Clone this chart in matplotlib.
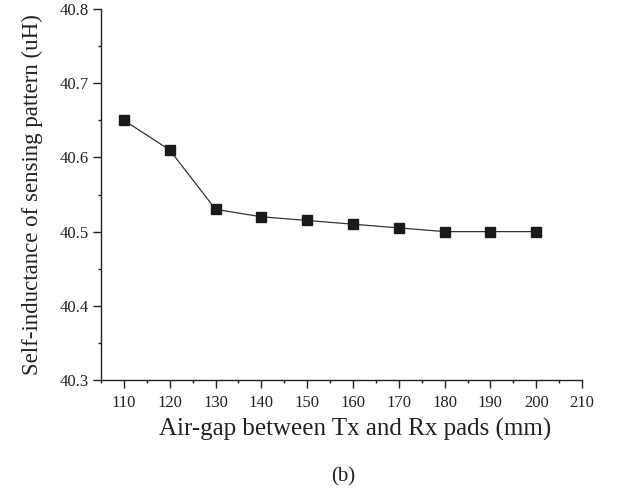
import matplotlib.pyplot as plt
from matplotlib.ticker import MultipleLocator

plt.rcParams['font.family'] = ['Liberation Serif', 'DejaVu Serif']

# data
air_gap = [110, 120, 130, 140, 150, 160, 170, 180, 190, 200]
inductance = [40.65, 40.61, 40.53, 40.52, 40.515, 40.51, 40.505, 40.50, 40.50, 40.50]

fig = plt.figure(figsize=(6.37, 4.95), dpi=100)
ax = fig.add_axes([0.1586, 0.2323, 0.7551, 0.7495])

ax.plot(air_gap, inductance, color='#333333', linewidth=0.9,
        marker='s', markersize=7, markerfacecolor='#1a1a1a', markeredgecolor='#1a1a1a')

ax.set_xlim(105, 210)
ax.set_ylim(40.3, 40.8)
ax.xaxis.set_major_locator(MultipleLocator(10))
ax.xaxis.set_minor_locator(MultipleLocator(5))
ax.yaxis.set_major_locator(MultipleLocator(0.1))
ax.yaxis.set_minor_locator(MultipleLocator(0.05))
ax.set_xticks(range(110, 211, 10))
ax.yaxis.set_major_formatter(plt.FormatStrFormatter('%.1f'))

ax.spines['top'].set_visible(False)
ax.spines['right'].set_visible(False)
for s in ['left', 'bottom']:
    ax.spines[s].set_linewidth(1.0)
    ax.spines[s].set_color('#222222')
ax.tick_params(which='major', direction='out', length=5.5, width=1.0, labelsize=12, colors='#222222')
ax.tick_params(which='minor', direction='out', length=2.5, width=1.0, colors='#222222')
ax.tick_params(axis='x', which='major', pad=5)
ax.tick_params(axis='y', which='major', pad=3)

ax.set_xlabel('Air-gap between Tx and Rx pads (mm)', fontsize=18, labelpad=5, color='#222222')
ax.xaxis.label.set_x(0.528)
ax.set_ylabel('Self-inductance of sensing pattern (uH)', fontsize=16.5, labelpad=12, color='#222222')

fig.text(0.539, 1 - 477 / 495, '(b)', fontsize=15, ha='center', va='center', color='#222222')

fig.savefig('out.png', dpi=100)
